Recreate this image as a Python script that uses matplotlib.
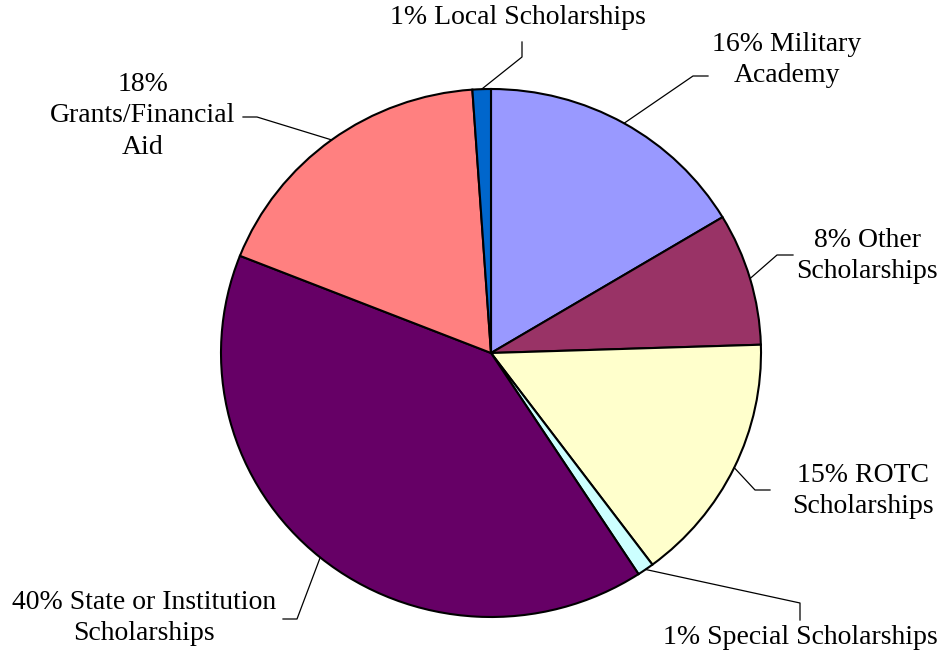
import matplotlib
matplotlib.use("Agg")
import matplotlib.pyplot as plt
import numpy as np
from matplotlib.lines import Line2D

categories = ["Military Academy", "Other Scholarships", "ROTC Scholarships",
              "Special Scholarships", "State or Institution Scholarships",
              "Grants/Financial Aid", "Local Scholarships"]
values = [16.4, 8.1, 15.3, 1.0, 40.2, 17.9, 1.1]
labels = ["16% Military\nAcademy", "8% Other\nScholarships", "15% ROTC\nScholarships",
          "1% Special Scholarships", "40% State or Institution\nScholarships",
          "18%\nGrants/Financial\nAid", "1% Local Scholarships"]
colors = ["#9999FF", "#993366", "#FFFFCC", "#CCFFFF", "#660066", "#FF8080", "#0066CC"]

W, H = 946, 662
fig = plt.figure(figsize=(W / 100, H / 100), dpi=100)
cx, cy, rx, ry = 491, 353, 270, 264
ax = fig.add_axes([(cx - rx) / W, (H - cy - ry) / H, 2 * rx / W, 2 * ry / H])
wedges, _ = ax.pie(values, colors=colors, startangle=90, counterclock=False,
                   wedgeprops=dict(edgecolor="black", linewidth=1.5))
ax.set_aspect("auto")
ax.set_xlim(-1, 1)
ax.set_ylim(-1, 1)
ax.axis("off")

# layout: elbow point, line end point, text anchor, alignment (pixels, from top)
layout = [
    dict(elbow=(693, 76), end=(708, 76), text=(787, 60), ha="center"),
    dict(elbow=(777, 255), end=(793, 255), text=(867, 256), ha="center"),
    dict(elbow=(755, 490), end=(770, 490), text=(863, 491), ha="center"),
    dict(elbow=(800, 603), end=(800, 620), text=(800, 638), ha="center"),
    dict(elbow=(297, 619), end=(283, 619), text=(144, 618), ha="center"),
    dict(elbow=(257, 117), end=(243, 117), text=(143, 116), ha="center"),
    dict(elbow=(522, 57), end=(522, 42), text=(518, 18), ha="center"),
]

fig.canvas.draw()
total = sum(values)
cum = 0.0
for v, lab, lay in zip(values, labels, layout):
    mid = (cum + v / 2) / total * 2 * np.pi
    cum += v
    px, py = ax.transData.transform((np.sin(mid), np.cos(mid)))
    ex, ey = lay["elbow"]
    tx, ty = lay["end"]
    fig.add_artist(Line2D([px, ex, tx], [py, H - ey, H - ty], transform=None,
                          color="black", linewidth=0.9))
    fig.text(lay["text"][0] / W, 1 - lay["text"][1] / H, lab, ha=lay["ha"], va="center",
             fontsize=20, family="Liberation Serif", linespacing=1.36)

fig.savefig("out.png", dpi=100)
